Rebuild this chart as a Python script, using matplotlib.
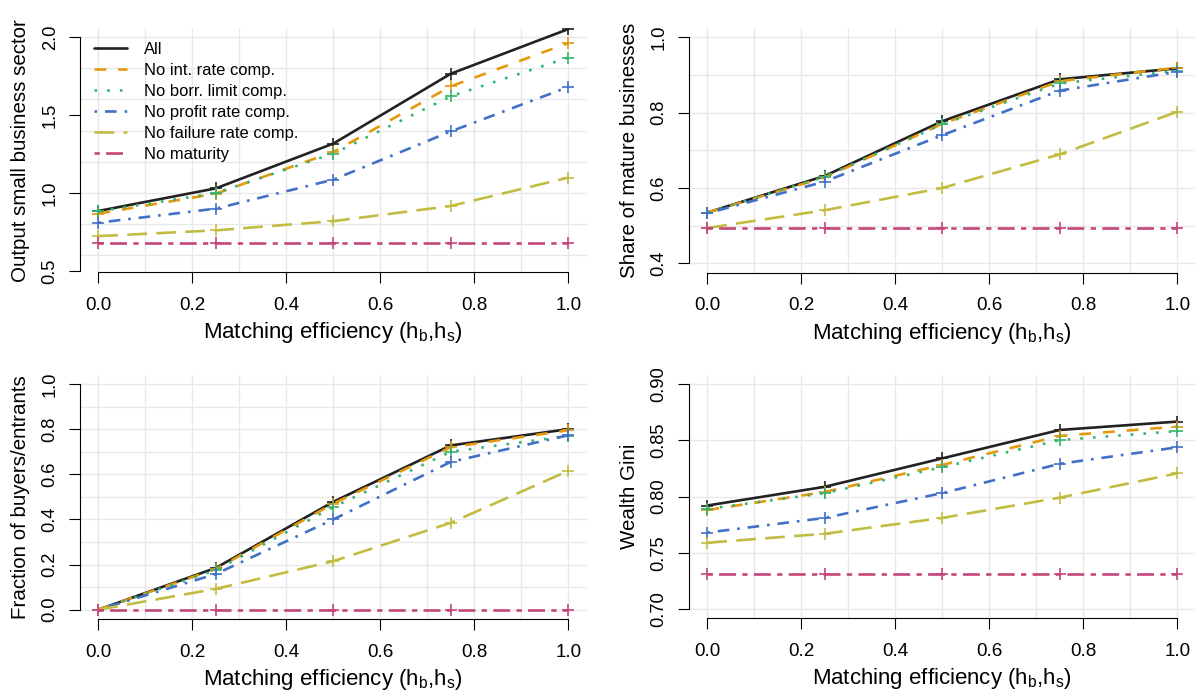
import matplotlib
matplotlib.use('Agg')
import matplotlib.pyplot as plt
import numpy as np

plt.rcParams['font.family'] = ['Liberation Sans', 'DejaVu Sans']
plt.rcParams['mathtext.default'] = 'regular'

# matching efficiency (h_b, h_s)
eff = [0.0, 0.25, 0.5, 0.75, 1.0]

labels = ['All', 'No int. rate comp.', 'No borr. limit comp.',
          'No profit rate comp.', 'No failure rate comp.', 'No maturity']
colors = ['#222222', '#E39A0C', '#35B372', '#4270C6', '#C2BD42', '#C4467A']
dashes = [None, (4.5, 4.5), (1.0, 3.8), (1.0, 3.0, 4.4, 3.0),
          (7.5, 3.5), (2.0, 2.4, 6.4, 2.4)]

# output small business sector
output = [
    [0.885, 1.030, 1.317, 1.765, 2.051],
    [0.868, 0.996, 1.263, 1.684, 1.962],
    [0.882, 1.000, 1.253, 1.620, 1.868],
    [0.810, 0.900, 1.086, 1.395, 1.680],
    [0.724, 0.761, 0.820, 0.917, 1.099],
    [0.682, 0.682, 0.682, 0.682, 0.682],
]
# share of mature businesses
mature = [
    [0.535, 0.632, 0.777, 0.888, 0.917],
    [0.535, 0.628, 0.770, 0.883, 0.919],
    [0.535, 0.630, 0.769, 0.877, 0.911],
    [0.533, 0.617, 0.740, 0.858, 0.908],
    [0.494, 0.541, 0.600, 0.689, 0.802],
    [0.494, 0.494, 0.494, 0.494, 0.494],
]
# fraction of buyers/entrants
buyers = [
    [0.0, 0.185, 0.478, 0.728, 0.800],
    [0.0, 0.180, 0.470, 0.720, 0.795],
    [0.0, 0.175, 0.455, 0.700, 0.770],
    [0.0, 0.158, 0.400, 0.655, 0.773],
    [0.0, 0.092, 0.215, 0.385, 0.615],
    [0.0, 0.0, 0.0, 0.0, 0.0],
]
# wealth gini
gini = [
    [0.792, 0.8086, 0.8338, 0.859, 0.8664],
    [0.788, 0.804, 0.828, 0.8537, 0.862],
    [0.789, 0.803, 0.826, 0.850, 0.858],
    [0.768, 0.781, 0.803, 0.829, 0.8436],
    [0.759, 0.767, 0.781, 0.799, 0.8205],
    [0.731, 0.731, 0.731, 0.731, 0.731],
]

panels = [
    (output, 'Output small business sector', (0.492, 2.058),
     [0.5, 1.0, 1.5, 2.0], '%.1f', np.arange(0.6, 2.01, 0.2)),
    (mature, 'Share of mature businesses', (0.376, 1.024),
     [0.4, 0.6, 0.8, 1.0], '%.1f', np.arange(0.4, 1.01, 0.1)),
    (buyers, 'Fraction of buyers/entrants', (-0.04, 1.04),
     [0.0, 0.2, 0.4, 0.6, 0.8, 1.0], '%.1f', np.arange(0.0, 1.01, 0.1)),
    (gini, 'Wealth Gini', (0.692, 0.908),
     [0.70, 0.75, 0.80, 0.85, 0.90], '%.2f', np.arange(0.70, 0.901, 0.05)),
]

W, H = 1195, 693
fig = plt.figure(figsize=(W / 100, H / 100), dpi=100)
boxes = [(79.5, 28, 587.1, 272.3), (688.5, 28, 1196, 272.5),
         (79.5, 375, 587.1, 618.7), (688.5, 374.7, 1196, 618.3)]

for i, (data, ylab, ylim, yticks, fmt, hgrid) in enumerate(panels):
    x0, y0, x1, y1 = boxes[i]
    ax = fig.add_axes([x0 / W, 1 - y1 / H, (x1 - x0) / W, (y1 - y0) / H])
    ax.set_xlim(-0.04, 1.04)
    ax.set_ylim(*ylim)
    for v in np.arange(0, 1.01, 0.1):
        ax.axvline(v, color='#E8E8E8', lw=1.0, zorder=0)
    for h in hgrid:
        ax.axhline(h, color='#E8E8E8', lw=1.0, zorder=0)

    for k, series in enumerate(data):
        ln, = ax.plot(eff, series, color=colors[k], lw=1.9, label=labels[k],
                      solid_capstyle='round', zorder=2 + k)
        if dashes[k] is not None:
            ln.set_dashes(dashes[k])
            ln.set_dash_capstyle('butt')
        ax.plot(eff, series, ls='none', marker='+', ms=8.5, mew=1.2,
                color=colors[k], zorder=2 + k)

    for s in ['top', 'right']:
        ax.spines[s].set_visible(False)
    ax.spines['left'].set_bounds(yticks[0], yticks[-1])
    ax.spines['bottom'].set_bounds(0, 1)
    for s in ['left', 'bottom']:
        ax.spines[s].set_linewidth(0.8)
    ax.set_xticks([0, 0.2, 0.4, 0.6, 0.8, 1.0])
    ax.set_xticklabels(['0.0', '0.2', '0.4', '0.6', '0.8', '1.0'])
    ax.set_yticks(yticks)
    ax.set_yticklabels([fmt % t for t in yticks], rotation=90, va='center')
    ax.tick_params(axis='x', length=8, width=0.8, pad=10, labelsize=13.6)
    ax.tick_params(axis='y', length=8, width=0.8, pad=7, labelsize=13.2)

    ax.set_xlabel('Matching efficiency (h$_b$,h$_s$)', fontsize=16)
    ax.xaxis.set_label_coords(0.5, -66 / (y1 - y0))
    ax.xaxis.label.set_va('baseline')
    ax.set_ylabel(ylab, fontsize=14.8)
    ax.yaxis.set_label_coords(-53.5 / (x1 - x0), 0.5)
    ax.yaxis.label.set_va('baseline')

    if i == 0:
        ax.legend(loc='upper left', bbox_to_anchor=(14.5 / (x1 - x0), 0.943),
                  frameon=False, fontsize=11.9, borderpad=0, borderaxespad=0,
                  handlelength=2.0, handletextpad=1.0, labelspacing=0.36)

fig.savefig('out.png', dpi=100)
